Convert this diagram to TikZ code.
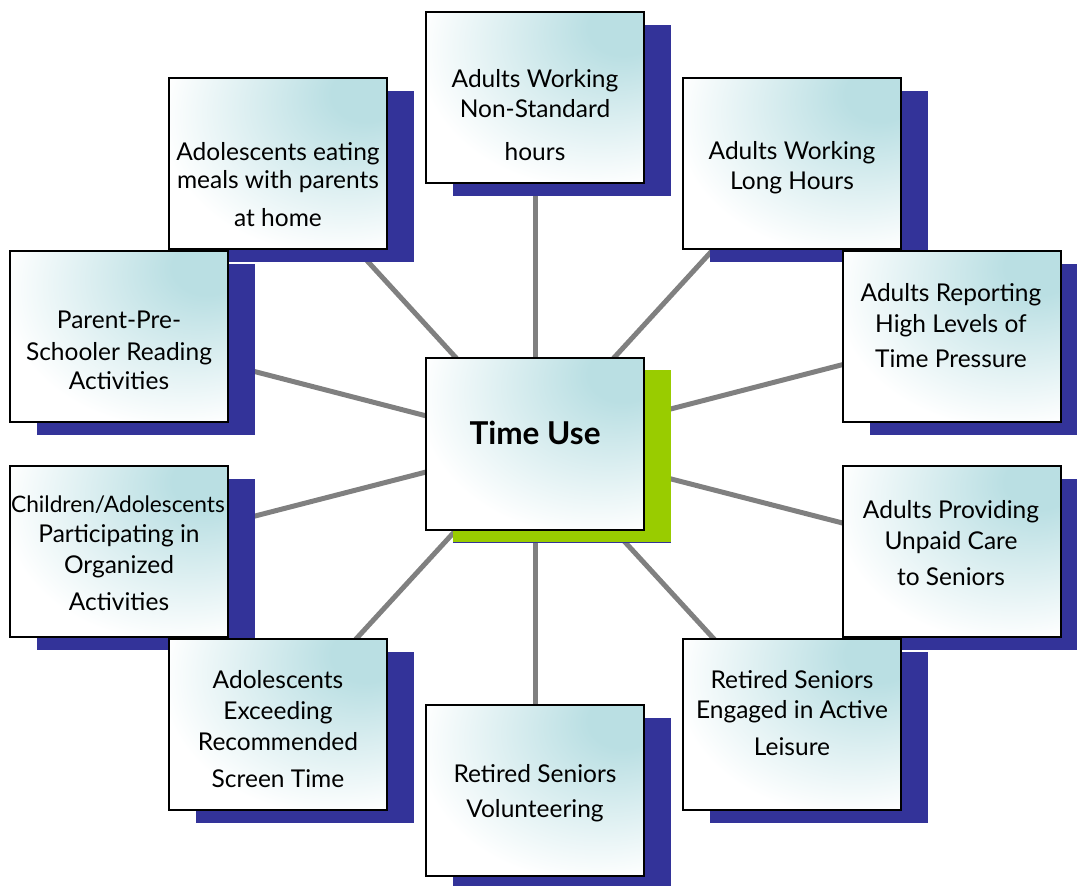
\documentclass[tikz,border=0pt]{standalone}
\usepackage{fontspec}
\setmainfont{Lato}
\usetikzlibrary{shadows}
\definecolor{shadowblue}{RGB}{51,51,153}
\definecolor{limegreen}{RGB}{153,204,0}
\definecolor{linegray}{RGB}{128,128,128}
\definecolor{glow}{RGB}{186,223,227}
\pgfdeclareradialshading{tealglow}{\pgfpoint{22bp}{22bp}}{color(0bp)=(glow); color(8bp)=(glow); color(40bp)=(white); color(100bp)=(white)}
\tikzset{
  topicbox/.style={draw=black, line width=2pt, shading=tealglow,
    minimum width=218pt, minimum height=171pt, inner sep=0pt,
    drop shadow={shadow xshift=27pt, shadow yshift=-13pt, fill=shadowblue, opacity=1, draw=none}},
  hubbox/.style={topicbox, minimum height=172pt,
    drop shadow={shadow xshift=27pt, shadow yshift=-12pt, fill=limegreen, opacity=1, draw=none}},
  lbl/.style={anchor=base, inner sep=0pt, font=\fontsize{24.5}{29}\selectfont},
  narrowlbl/.style={lbl, font=\fontsize{22.7}{27}\selectfont},
  hublbl/.style={anchor=base, inner sep=0pt, font=\fontsize{31.5}{36}\selectfont\bfseries},
  link/.style={draw=linegray, line width=5pt}
}
\begin{document}
\begin{tikzpicture}[x=1pt,y=-1pt]
\useasboundingbox (0,0) rectangle (1077,886);
% anchor coordinates
\coordinate (c0) at (535,444);
\coordinate (c1) at (535,97);
\coordinate (c2) at (278,163.5);
\coordinate (c3) at (792,163.5);
\coordinate (c4) at (119,336.5);
\coordinate (c5) at (951.5,336.5);
\coordinate (c6) at (119,551);
\coordinate (c7) at (951.5,551);
\coordinate (c8) at (278,724);
\coordinate (c9) at (792,724);
\coordinate (c10) at (535,790);
% connectors
\foreach \i in {1,...,10} \draw[link] (c0) -- (c\i);
% boxes
\node[topicbox] (b1) at (c1) {};
\node[topicbox] (b2) at (c2) {};
\node[topicbox] (b3) at (c3) {};
\node[topicbox] (b4) at (c4) {};
\node[topicbox] (b5) at (c5) {};
\node[topicbox] (b6) at (c6) {};
\node[topicbox] (b7) at (c7) {};
\node[topicbox] (b8) at (c8) {};
\node[topicbox] (b9) at (c9) {};
\node[topicbox] (b10) at (c10) {};
\node[hubbox] (b0) at (c0) {};
% labels
\node[hublbl] (t0) at (535,444) {Time Use};
\node[lbl] (t1a) at (535,87) {Adults Working};
\node[lbl] (t1b) at (535,117) {Non-Standard};
\node[lbl] (t1c) at (535,160) {hours};
\node[lbl] (t2a) at (278,160) {Adolescents eating};
\node[lbl] (t2b) at (278,188) {meals with parents};
\node[lbl] (t2c) at (278,226) {at home};
\node[lbl] (t3a) at (792,159) {Adults Working};
\node[lbl] (t3b) at (792,189) {Long Hours};
\node[lbl] (t4a) at (119,328) {Parent-Pre-};
\node[lbl] (t4b) at (119,360) {Schooler Reading};
\node[lbl] (t4c) at (119,389) {Activities};
\node[lbl] (t5a) at (951,301) {Adults Reporting};
\node[lbl] (t5b) at (951,332) {High Levels of};
\node[lbl] (t5c) at (951,367) {Time Pressure};
\node[narrowlbl] (t6a) at (118,512) {Children/Adolescents};
\node[lbl] (t6b) at (119,542) {Participating in};
\node[lbl] (t6c) at (119,573) {Organized};
\node[lbl] (t6d) at (119,610) {Activities};
\node[lbl] (t7a) at (951,518) {Adults Providing};
\node[lbl] (t7b) at (951,549) {Unpaid Care};
\node[lbl] (t7c) at (951,585) {to Seniors};
\node[lbl] (t8a) at (278,688) {Adolescents};
\node[lbl] (t8b) at (278,719) {Exceeding};
\node[lbl] (t8c) at (278,750) {Recommended};
\node[lbl] (t8d) at (278,787) {Screen Time};
\node[lbl] (t9a) at (792,688) {Retired Seniors};
\node[lbl] (t9b) at (792,718) {Engaged in Active};
\node[lbl] (t9c) at (792,755) {Leisure};
\node[lbl] (t10a) at (535,782) {Retired Seniors};
\node[lbl] (t10b) at (535,817) {Volunteering};
\end{tikzpicture}
\end{document}
